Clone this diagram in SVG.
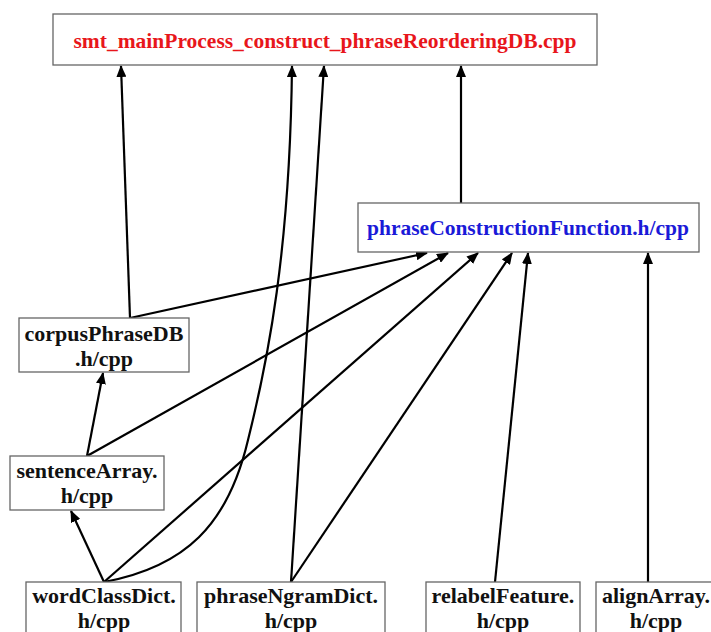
<svg xmlns="http://www.w3.org/2000/svg" width="711" height="632" viewBox="0 0 711 632">
<style>
.box{fill:#fff;stroke:#666;stroke-width:1.3}
.t{font-family:"Liberation Serif","Times New Roman",serif;font-weight:bold;font-size:22px;text-anchor:middle;fill:#111}
.title{font-size:21.5px}
.e{fill:none;stroke:#000;stroke-width:2.2;marker-end:url(#ah)}
</style>
<defs>
<marker id="ah" viewBox="0 0 12 10" refX="11" refY="5" markerWidth="12" markerHeight="10" markerUnits="userSpaceOnUse" orient="auto">
<path d="M0,0 L12,5 L0,10 z" fill="#000"/>
</marker>
</defs>
<rect width="711" height="632" fill="#fff"/>
<g id="edges">
<path class="e" d="M130,318 L121,66"/>
<path class="e" d="M130,318 L427,253"/>
<path class="e" d="M87,456 L103,373"/>
<path class="e" d="M87,456 L448,253"/>
<path class="e" d="M104,582 L71,511"/>
<path class="e" d="M104,582 L478,253"/>
<path class="e" d="M104,582 C185,567 228,525 248,440 C268,360 290,250 292,66"/>
<path class="e" d="M291,582 L324,66"/>
<path class="e" d="M291,582 L512,253"/>
<path class="e" d="M495,582 L528,253"/>
<path class="e" d="M648,582 L648,253"/>
<path class="e" d="M461,203 L461,66"/>
</g>
<g id="main">
<rect class="box" x="53" y="14" width="544" height="51"/>
<text class="t title" x="325" y="48" style="fill:#e8161b">smt_mainProcess_construct_phraseReorderingDB.cpp</text>
</g>
<g id="phraseConstructionFunction">
<rect class="box" x="358" y="203" width="341" height="49"/>
<text class="t title" x="528" y="235" style="fill:#1a1ad8">phraseConstructionFunction.h/cpp</text>
</g>
<g id="corpusPhraseDB">
<rect class="box" x="19" y="318" width="170" height="54"/>
<text class="t" x="104" y="341">corpusPhraseDB</text>
<text class="t" x="104" y="366">.h/cpp</text>
</g>
<g id="sentenceArray">
<rect class="box" x="10" y="456" width="154" height="54"/>
<text class="t" x="87" y="478">sentenceArray.</text>
<text class="t" x="87" y="503">h/cpp</text>
</g>
<g id="wordClassDict">
<rect class="box" x="26" y="582" width="155" height="60"/>
<text class="t" x="104" y="603">wordClassDict.</text>
<text class="t" x="104" y="628">h/cpp</text>
</g>
<g id="phraseNgramDict">
<rect class="box" x="197" y="582" width="188" height="60"/>
<text class="t" x="291" y="603">phraseNgramDict.</text>
<text class="t" x="291" y="628">h/cpp</text>
</g>
<g id="relabelFeature">
<rect class="box" x="426" y="582" width="154" height="60"/>
<text class="t" x="503" y="603">relabelFeature.</text>
<text class="t" x="503" y="628">h/cpp</text>
</g>
<g id="alignArray">
<rect class="box" x="596" y="582" width="120" height="60"/>
<text class="t" x="656" y="603">alignArray.</text>
<text class="t" x="656" y="628">h/cpp</text>
</g>
</svg>
